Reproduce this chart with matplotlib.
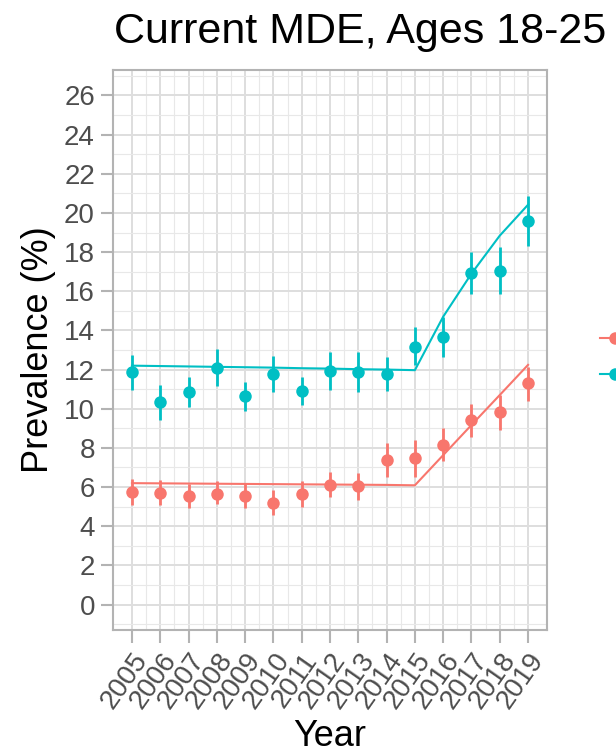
import matplotlib

matplotlib.use('agg')
import matplotlib.pyplot as plt
from matplotlib.lines import Line2D
from matplotlib.ticker import MultipleLocator

# data
years = list(range(2005, 2020))

teal_pt = [11.87, 10.34, 10.85, 12.10, 10.63, 11.78, 10.92, 11.93, 11.90, 11.78,
           13.14, 13.65, 16.95, 17.05, 19.59]
teal_lo = [10.97, 9.45, 10.09, 11.17, 9.87, 10.85, 10.17, 10.97, 10.88, 10.92,
           12.25, 12.63, 15.88, 15.88, 18.30]
teal_hi = [12.75, 11.22, 11.61, 13.05, 11.36, 12.71, 11.61, 12.88, 12.91, 12.63,
           14.19, 14.66, 18.00, 18.25, 20.87]
teal_fit = [12.20, 12.18, 12.16, 12.14, 12.12, 12.10, 12.07, 12.05, 12.02, 12.00,
            11.97, 14.70, 16.90, 18.84, 20.42]

red_pt = [5.76, 5.72, 5.55, 5.67, 5.55, 5.21, 5.64, 6.11, 6.03, 7.39,
          7.47, 8.16, 9.42, 9.82, 11.34]
red_lo = [5.08, 5.08, 4.91, 5.13, 4.91, 4.57, 4.96, 5.47, 5.33, 6.52,
          6.53, 7.33, 8.55, 8.90, 10.38]
red_hi = [6.43, 6.36, 6.15, 6.32, 6.20, 5.86, 6.32, 6.78, 6.70, 8.26,
          8.38, 9.02, 10.26, 10.72, 12.15]
red_fit = [6.20, 6.19, 6.18, 6.17, 6.16, 6.15, 6.14, 6.13, 6.12, 6.11,
           6.09, 7.63, 9.17, 10.70, 12.24]

groups = ['Male', 'Female']
colors = {'Male': '#F8766D', 'Female': '#00BFC4'}

plt.rcParams['font.family'] = ['Liberation Sans', 'DejaVu Sans']

fig = plt.figure(figsize=(6.16, 7.55), dpi=100)
ax = fig.add_axes([113 / 616, 125 / 755, 434 / 616, 560 / 755])

series = {
  'Male': (red_pt, red_lo, red_hi, red_fit),
  'Female': (teal_pt, teal_lo, teal_hi, teal_fit),
}

for g in groups:
  pt, lo, hi, fit = series[g]
  c = colors[g]
  ax.plot(years, fit, color=c, lw=1.5, zorder=3)
  ax.vlines(years, lo, hi, color=c, lw=2, zorder=4)
  ax.plot(years, pt, 'o', color=c, ms=9, mec='none', zorder=5)

# axes / theme_light look
ax.set_xlim(2005 - 0.67, 2019 + 0.67)
ax.set_ylim(-1.3, 27.3)
ax.set_xticks(years)
ax.set_xticklabels([str(y) for y in years], rotation=55, ha='right',
                   rotation_mode='anchor', fontsize=20, color='#4D4D4D')
ax.yaxis.set_major_locator(MultipleLocator(2))
ax.yaxis.set_minor_locator(MultipleLocator(1))
ax.set_xticks([y + 0.5 for y in years[:-1]], minor=True)
ax.set_yticks(range(0, 27, 2))
ax.tick_params(axis='y', labelsize=20, labelcolor='#4D4D4D')
ax.tick_params(which='major', length=9, width=1.5, color='#B3B3B3', pad=4)
ax.tick_params(which='minor', length=0)
ax.grid(which='major', color='#DEDEDE', lw=1.4, zorder=0)
ax.grid(which='minor', color='#E8E8E8', lw=0.8, zorder=0)
ax.set_axisbelow(True)
for sp in ax.spines.values():
  sp.set_color('#B3B3B3')
  sp.set_linewidth(1.5)

ax.set_xlabel('Year', fontsize=26, labelpad=4)
ax.set_ylabel('Prevalence (%)', fontsize=26, labelpad=6)
fig.text(114 / 616, 1 - 43 / 755, 'Current MDE, Ages 18-25', fontsize=31,
         ha='left', va='baseline')

# legend mostly outside the canvas, as in the cropped reference
handles = [Line2D([], [], color=colors[g], lw=1.5, marker='o', ms=9, mec='none')
           for g in groups]
fig.legend(handles, groups, loc='upper left', bbox_to_anchor=(600 / 616, 1 - 328 / 755),
           frameon=False, fontsize=20, handlelength=1.1, borderpad=0,
           borderaxespad=0, labelspacing=0.35, handletextpad=0.5)

plt.savefig('out.png', dpi=100)
